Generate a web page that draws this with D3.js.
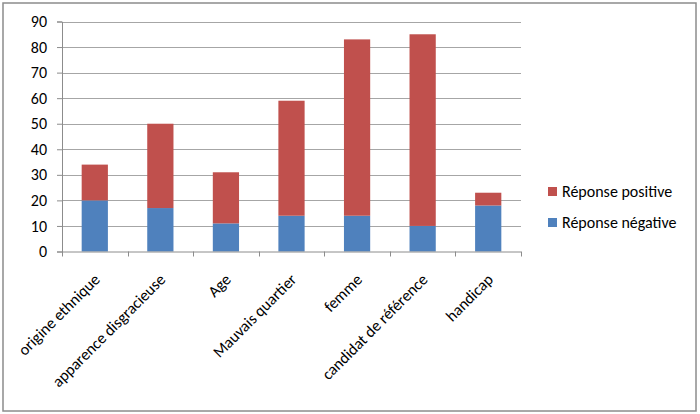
<!DOCTYPE html>
<html>
<head>
<meta charset="utf-8">
<script src="https://cdn.jsdelivr.net/npm/d3@7"></script>
<style>
  body { margin: 0; background: #fff; }
  svg text { font-family: Carlito, Calibri, "Open Sans", sans-serif; fill: #000; }
</style>
</head>
<body>
<svg id="chart"></svg>
<script>
"use strict";

// ---- data ----
const categories = ["origine ethnique", "apparence disgracieuse", "Age", "Mauvais quartier",
                    "femme", "candidat de référence", "handicap"];
const negative = [20, 17, 11, 14, 14, 10, 18];   // Réponse négative (bottom)
const positive = [14, 33, 20, 45, 69, 75, 5];    // Réponse positive (stacked on top)
const yTicks = [0, 10, 20, 30, 40, 50, 60, 70, 80, 90];
const seriesNames = ["Réponse positive", "Réponse négative"];

// ---- setup ----
const W = 700, H = 414;
const plot = { left: 62, right: 521, top: 21.5, bottom: 251.5 };
const colors = { pos: "#C0504D", neg: "#4F81BD" };

const svg = d3.select("#chart").attr("width", W).attr("height", H);

// outer frame
svg.append("rect")
  .attr("x", 3).attr("y", 3)
  .attr("width", 693).attr("height", 408)
  .attr("fill", "#fff").attr("stroke", "#8c8c8c").attr("stroke-width", 1.5);

const x = d3.scaleBand()
  .domain(categories)
  .range([plot.left, plot.right])
  .paddingInner(0.6).paddingOuter(0.3);

const y = d3.scaleLinear().domain([0, 90]).range([plot.bottom, plot.top]);

// gridlines
svg.append("g")
  .selectAll("line")
  .data(yTicks.slice(1))
  .join("line")
  .attr("x1", plot.left).attr("x2", plot.right)
  .attr("y1", d => Math.round(y(d)) + 0.5).attr("y2", d => Math.round(y(d)) + 0.5)
  .attr("stroke", "#a6a6a6").attr("stroke-width", 1);

// stacked bars
const stack = d3.stack().keys(["neg", "pos"])(
  categories.map((c, i) => ({ cat: c, neg: negative[i], pos: positive[i] }))
);

svg.append("g")
  .selectAll("g")
  .data(stack)
  .join("g")
  .attr("fill", d => colors[d.key])
  .selectAll("rect")
  .data(d => d)
  .join("rect")
  .attr("x", d => x(d.data.cat))
  .attr("width", x.bandwidth())
  .attr("y", d => y(d[1]))
  .attr("height", d => y(d[0]) - y(d[1]));

// y axis
const yAxis = svg.append("g")
  .attr("transform", `translate(${plot.left},0)`)
  .call(d3.axisLeft(y).tickValues(yTicks).tickSize(5).tickPadding(10));
yAxis.select(".domain").attr("stroke", "#8c8c8c");
yAxis.selectAll(".tick line").attr("stroke", "#8c8c8c");
yAxis.selectAll(".tick text").style("font-size", "16px").attr("fill", "#000");

// x axis (ticks on category boundaries)
const boundaries = d3.range(categories.length + 1)
  .map(i => plot.left + i * (plot.right - plot.left) / categories.length);

const xg = svg.append("g");
xg.append("line")
  .attr("x1", plot.left).attr("x2", plot.right)
  .attr("y1", plot.bottom + 0.5).attr("y2", plot.bottom + 0.5)
  .attr("stroke", "#8c8c8c");
xg.selectAll("line.tick")
  .data(boundaries)
  .join("line")
  .attr("class", "tick")
  .attr("x1", d => Math.round(d) + 0.5).attr("x2", d => Math.round(d) + 0.5)
  .attr("y1", plot.bottom).attr("y2", plot.bottom + 5)
  .attr("stroke", "#8c8c8c");

xg.selectAll("text")
  .data(categories)
  .join("text")
  .attr("text-anchor", "end")
  .attr("transform", d => `translate(${x(d) + x.bandwidth() / 2 + 6},${plot.bottom + 29}) rotate(-45)`)
  .style("font-size", "16px")
  .text(d => d);

// legend
const legend = svg.append("g");
const legendItems = [
  { name: seriesNames[0], color: colors.pos, y: 187 },
  { name: seriesNames[1], color: colors.neg, y: 218 }
];
legend.selectAll("rect")
  .data(legendItems)
  .join("rect")
  .attr("x", 548).attr("y", d => d.y)
  .attr("width", 9).attr("height", 9)
  .attr("fill", d => d.color);
legend.selectAll("text")
  .data(legendItems)
  .join("text")
  .attr("x", 562).attr("y", d => d.y + 10)
  .style("font-size", "16px")
  .text(d => d.name);
</script>
</body>
</html>
